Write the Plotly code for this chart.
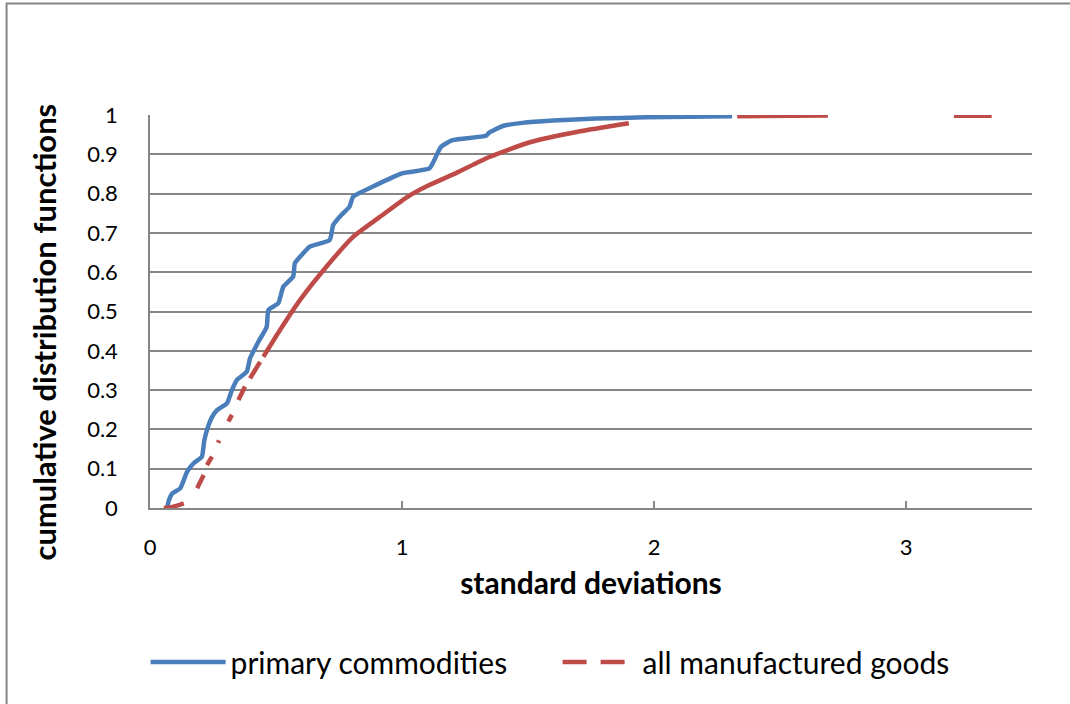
import plotly.graph_objects as go

# ---- data ----
prim_x = [0.068, 0.075, 0.088, 0.12, 0.147, 0.173, 0.206, 0.215, 0.226, 0.245, 0.266, 0.305,
          0.325, 0.345, 0.384, 0.397, 0.43, 0.463, 0.47, 0.509, 0.529, 0.568, 0.575, 0.608,
          0.634, 0.713, 0.727, 0.76, 0.792, 0.806, 0.885, 0.964, 1.003, 1.109, 1.128, 1.155,
          1.2, 1.333, 1.346, 1.4, 1.478, 1.6, 1.77, 1.965, 2.31]
prim_y = [0.0, 0.02, 0.037, 0.05, 0.092, 0.114, 0.131, 0.17, 0.198, 0.23, 0.249, 0.266,
          0.3, 0.326, 0.347, 0.381, 0.423, 0.461, 0.504, 0.521, 0.563, 0.589, 0.623, 0.648,
          0.665, 0.682, 0.72, 0.746, 0.767, 0.792, 0.818, 0.842, 0.852, 0.864, 0.885, 0.919,
          0.936, 0.947, 0.955, 0.972, 0.98, 0.986, 0.991, 0.994, 0.997]

# all manufactured goods: visible pieces of the dashed curve
mfg_x_pieces = [
    [0.055, 0.09, 0.134],
    [0.187, 0.213],
    [0.226, 0.246],
    [0.270, 0.274],
    [0.311, 0.325],
    [0.351, 0.377],
    [0.397, 0.437],
    [0.45, 0.516, 0.595, 0.7, 0.806, 0.911, 1.017, 1.096, 1.214, 1.346, 1.504, 1.702, 1.9],
    [2.33, 2.69],
    [3.19, 3.34],
]
mfg_y_pieces = [
    [0.0, 0.003, 0.012],
    [0.05, 0.084],
    [0.109, 0.131],
    [0.166, 0.172],
    [0.22, 0.237],
    [0.275, 0.309],
    [0.33, 0.372],
    [0.385, 0.453, 0.529, 0.614, 0.69, 0.74, 0.79, 0.818, 0.852, 0.893, 0.93, 0.958, 0.979],
    [0.997, 0.999],
    [0.998, 0.998],
]

x_ticks = [0, 1, 2, 3]
y_ticks = [0, 0.1, 0.2, 0.3, 0.4, 0.5, 0.6, 0.7, 0.8, 0.9, 1]
y_ticklabels = ["0", "0.1", "0.2", "0.3", "0.4", "0.5", "0.6", "0.7", "0.8", "0.9", "1"]
x_title = "standard deviations"
y_title = "cumulative distribution functions"

BLUE = "#4a7ebb"
RED = "#be4b48"
GRID = "#868686"
FONT = "Lato"

fig = go.Figure()

fig.add_trace(go.Scatter(x=prim_x, y=prim_y, mode="lines", name="primary commodities",
                         line=dict(color=BLUE, width=4.5, shape="spline", smoothing=0.5),
                         showlegend=True))

for xs, ys in zip(mfg_x_pieces, mfg_y_pieces):
    fig.add_trace(go.Scatter(x=xs, y=ys, mode="lines", name="all manufactured goods",
                             line=dict(color=RED, width=4.5, shape="spline", smoothing=0.5),
                             showlegend=False, legendgroup="mfg"))

# legend entry for the dashed series
fig.add_trace(go.Scatter(x=[None], y=[None], mode="lines", name="all manufactured goods",
                         line=dict(color=RED, width=4.5, dash="24px,14px"),
                         legendgroup="mfg", showlegend=True))

L, R, T, B = 149.5, 38, 115, 196
W, H = 1070, 704
pw = W - L - R
ph = H - T - B

# chart-area border (left and top edges visible)
fig.add_shape(type="rect", xref="paper", yref="paper",
              x0=(6 - L) / pw, x1=(W + 20 - L) / pw,
              y0=-(H + 20 - (T + ph)) / ph, y1=(T + ph - 3.5) / ph,
              line=dict(color=GRID, width=2), fillcolor="rgba(0,0,0,0)", layer="below")

# y-axis title (placed like the reference, slightly below the plot centre)
fig.add_annotation(text="<b>" + y_title + "</b>", textangle=-90, showarrow=False,
                   xref="paper", yref="paper",
                   x=(43 - L) / pw, y=(T + ph - 332) / ph,
                   xanchor="center", yanchor="middle",
                   font=dict(family=FONT, size=31, color="black"))

fig.update_layout(
    width=W, height=H,
    margin=dict(l=L, r=R, t=T, b=B),
    paper_bgcolor="white", plot_bgcolor="white",
    font=dict(family=FONT, size=18, color="black"),
    showlegend=True,
    legend=dict(orientation="h", x=-0.005, xanchor="left", y=-0.392, yanchor="middle",
                font=dict(family=FONT, size=30, color="black"),
                itemwidth=75, entrywidth=322, traceorder="normal",
                bgcolor="rgba(0,0,0,0)"),
    xaxis=dict(range=[0, 3.5], tickvals=x_ticks, ticktext=[str(v) for v in x_ticks],
               showgrid=False, zeroline=False, showline=True, linecolor=GRID, linewidth=1.5,
               ticks="inside", ticklen=7, tickcolor=GRID, tickwidth=1.5,
               tickfont=dict(family=FONT, size=22), ticklabelstandoff=19,
               title=dict(text="<b>" + x_title + "</b>", font=dict(family=FONT, size=30),
                          standoff=14)),
    yaxis=dict(range=[0, 1], tickvals=y_ticks, ticktext=y_ticklabels,
               showgrid=True, gridcolor=GRID, gridwidth=1.5, zeroline=False,
               showline=True, linecolor=GRID, linewidth=1.5, ticks="",
               tickfont=dict(family=FONT, size=22), ticklabelstandoff=26),
)

fig.write_html("out.html",
               config={"displayModeBar": False},
               post_script="document.body.style.margin='0';"
                           "document.body.style.overflow='hidden';")
